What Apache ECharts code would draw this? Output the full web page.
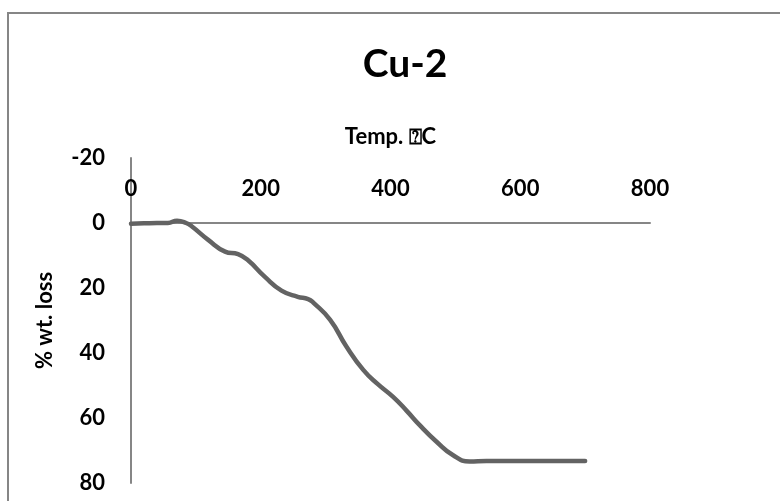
<!DOCTYPE html>
<html>
<head>
<meta charset="utf-8">
<script src="https://cdn.jsdelivr.net/npm/echarts@6/dist/echarts.min.js"></script>
<style>
  html, body { margin: 0; padding: 0; background: #fff; }
</style>
</head>
<body>
<div id="chart" style="width:780px;height:501px;"></div>
<script>
// temperature (C) and % weight loss
const temps = [0, 20, 40, 57, 71, 85, 94, 119, 145, 165, 180, 206, 232, 257, 273, 281, 307, 332, 358, 380, 404, 425, 445, 471, 496, 522, 548, 600, 650, 700]
const wtLoss = [0.2, 0.1, 0.0, 0.0, -0.7, 0.0, 1.1, 5.2, 8.8, 9.6, 11.4, 16.5, 20.8, 22.7, 23.4, 24.5, 29.8, 38, 45.2, 49.5, 53.5, 57.8, 62.2, 67.3, 71.4, 73.4, 73.2, 73.2, 73.2, 73.2]

const font = 'Lato, "Open Sans", sans-serif'
const axisColor = '#868686'

const chart = echarts.init(document.getElementById('chart'))
chart.setOption({
  animation: false,
  title: {
    text: 'Cu-2',
    left: 400,
    top: 40,
    textAlign: 'center',
    textStyle: { fontFamily: font, fontWeight: 'bold', fontSize: 39, color: '#000' }
  },
  graphic: [{
    type: 'rect',
    shape: { x: 8, y: 13, width: 800, height: 600 },
    style: { fill: 'none', stroke: axisColor, lineWidth: 2 }
  }],
  grid: {
    left: 131,
    right: 130,
    top: 158,
    bottom: 18
  },
  xAxis: {
    type: 'value',
    min: 0,
    max: 800,
    interval: 200,
    position: 'top',
    // move the axis down to the 0 % line, labels stay above it
    offset: -65,
    name: 'Temp. \u2370C',
    nameLocation: 'middle',
    nameGap: 75,
    nameTextStyle: { fontFamily: font, fontWeight: 'bold', fontSize: 22, color: '#000' },
    axisLine: { onZero: false, lineStyle: { color: axisColor, width: 2 } },
    axisTick: { show: false },
    splitLine: { show: false },
    axisLabel: { margin: 23, fontFamily: font, fontWeight: 'bold', fontSize: 22, color: '#000' }
  },
  yAxis: {
    type: 'value',
    inverse: true,
    min: -20,
    max: 80,
    interval: 20,
    name: '% wt. loss',
    nameLocation: 'middle',
    nameGap: 75,
    nameTextStyle: { fontFamily: font, fontWeight: 'bold', fontSize: 22, color: '#000' },
    axisLine: { show: true, onZero: false, lineStyle: { color: axisColor, width: 2 } },
    axisTick: { show: false },
    splitLine: { show: false },
    axisLabel: { margin: 26, fontFamily: font, fontWeight: 'bold', fontSize: 22, color: '#000' }
  },
  series: [{
    type: 'line',
    data: temps.map((t, i) => [t, wtLoss[i]]),
    smooth: true,
    showSymbol: false,
    lineStyle: { color: '#636363', width: 4.5, cap: 'round' }
  }]
})
</script>
</body>
</html>
